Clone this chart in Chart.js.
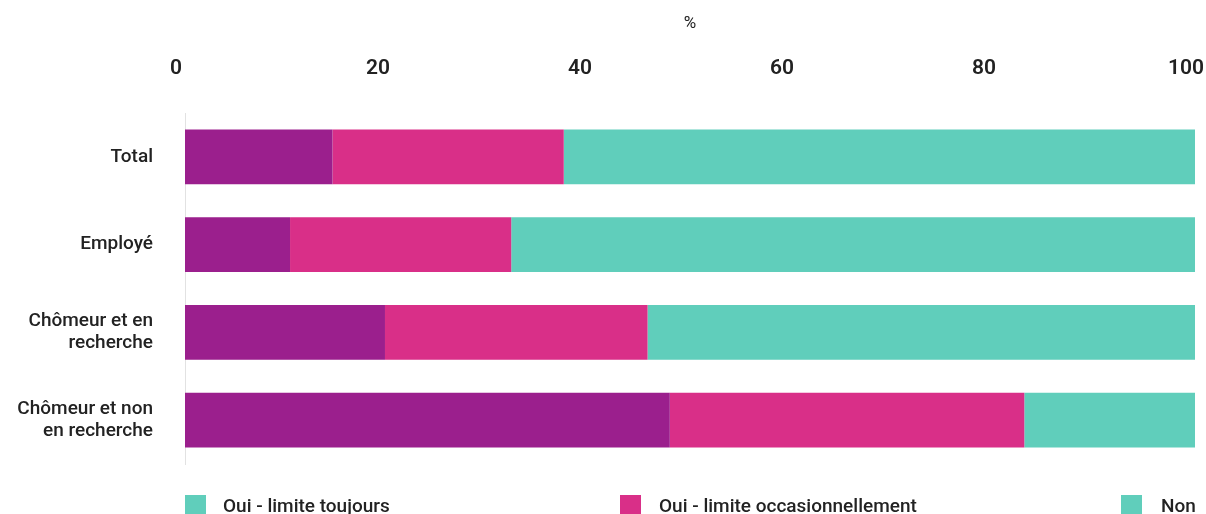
<!DOCTYPE html>
<html lang="fr">
<head>
<meta charset="utf-8">
<title>Limitation selon la situation d'emploi</title>
<script src="https://cdn.jsdelivr.net/npm/chart.js@4/dist/chart.umd.min.js"></script>
<style>
  html,body{margin:0;padding:0;background:#fff;overflow:hidden}
  #wrap{position:relative;width:1220px;height:514px}
  #chart{position:absolute;left:0;top:0}
  .legend{position:absolute;top:495px;font:500 19px Roboto, "Noto Sans", sans-serif;color:#222;white-space:nowrap}
  .legend .sw{position:absolute;left:0;top:0;width:21px;height:22px}
  .legend span.txt{position:absolute;top:-1px}
</style>
</head>
<body>
<div id="wrap">
  <canvas id="chart" width="1220" height="514"></canvas>
  <div id="legend"></div>
</div>
<script>
/* Situation d'emploi – part limitée (%) */
const CATEGORIES = ["Total", "Employé", ["Chômeur et en","recherche"], ["Chômeur et non","en recherche"]];
const SERIES = ["Oui - limite toujours", "Oui - limite occasionnellement", "Non"];
const TOUJOURS = [14.6, 10.4, 19.8, 48.0];
const OCCASION = [22.9, 21.9, 26.0, 35.1];
const NON      = [62.5, 67.7, 54.2, 16.9];
const X_TICKS  = [0, 20, 40, 60, 80, 100];

const C = {violet:"#9b1f8d", rose:"#d92f88", vert:"#60cebb", txt:"#222"};
const FONT = "Roboto, 'Noto Sans', sans-serif";

// legend boxes under the chart (first swatch is teal too)
const LEGEND_POS = [{x:185,tx:223,c:C.vert},{x:620,tx:659,c:C.rose},{x:1121,tx:1161,c:C.vert}];
const leg = document.getElementById("legend");
SERIES.forEach((s,i)=>{
  const p = LEGEND_POS[i];
  leg.insertAdjacentHTML("beforeend",
    `<div class="legend" style="left:${p.x}px"><div class="sw" style="background:${p.c}"></div><span class="txt" style="left:${p.tx-p.x}px">${s}</span></div>`);
});

new Chart(document.getElementById("chart"), {
  type: "bar",
  data: {
    labels: CATEGORIES,
    datasets: [
      {label:SERIES[0], data:TOUJOURS, backgroundColor:C.violet},
      {label:SERIES[1], data:OCCASION, backgroundColor:C.rose},
      {label:SERIES[2], data:NON,      backgroundColor:C.vert}
    ]
  },
  options: {
    indexAxis: "y",
    responsive: false,
    animation: false,
    events: [],
    layout: {padding:{left:0, right:25, top:0, bottom:50}},
    datasets: {bar:{categoryPercentage:1, barPercentage:0.625, borderWidth:0}},
    plugins: {legend:{display:false}, tooltip:{enabled:false}},
    scales: {
      x: {
        position: "top",
        stacked: true,
        min: 0, max: 100,
        afterBuildTicks: s => { s.ticks = X_TICKS.map(v=>({value:v})); },
        afterFit: s => { s.height = 113; s.paddingLeft = 0; s.paddingRight = 0; },
        grid: {display:false, drawTicks:false},
        border: {display:false},
        ticks: {padding:32, labelOffset:-9, color:C.txt, font:{family:FONT, size:21, weight:"600"}},
        title: {display:true, text:"%", color:C.txt, padding:{top:14,bottom:0}, font:{family:FONT, size:17, weight:"400"}}
      },
      y: {
        stacked: true,
        afterFit: s => { s.width = 185; },
        grid: {display:false, drawTicks:false},
        border: {display:true, color:"#e2e2e2", width:1},
        ticks: {padding:32, color:C.txt, font:{family:FONT, size:19, weight:"500", lineHeight:1.16}}
      }
    }
  }
});
</script>
</body>
</html>
